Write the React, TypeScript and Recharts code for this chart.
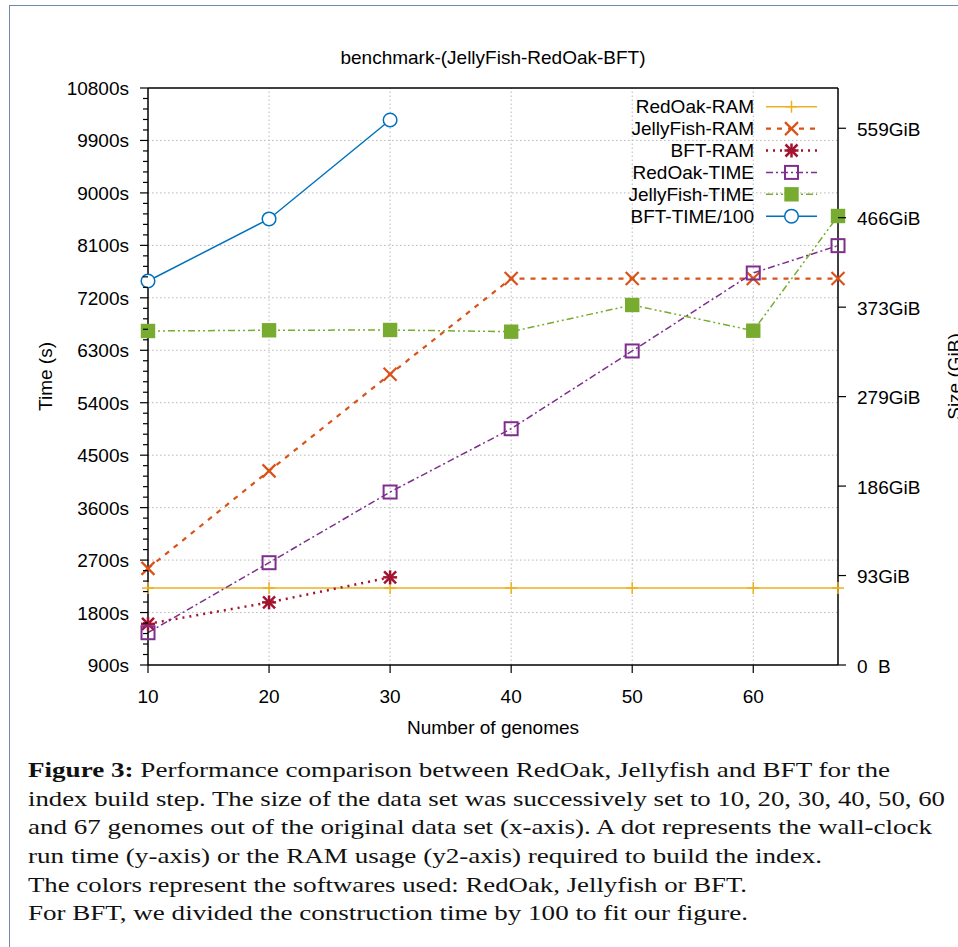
import React from 'react';
import { LineChart, Line, XAxis, YAxis, ReferenceLine, Legend } from 'recharts';

// ---------- data ----------
const genomes = [10, 20, 30, 40, 50, 60, 67];
// RAM in GB (1e9 bytes), shown on the y2 axis with GiB labels
const redOakRam = [86, 86, 86, 86, 86, 86, 86];
const jellyFishRam = [108, 217, 325, 432, 432, 432, 432];
const bftRam: (number | null)[] = [46, 70, 98, null, null, null, null];
// wall-clock time in seconds (y axis)
const redOakTime = [1454, 2655, 3868, 4954, 6288, 7626, 8095];
const jellyFishTime = [6631, 6643, 6648, 6619, 7077, 6636, 8604];
const bftTime100: (number | null)[] = [7489, 8553, 10251, null, null, null, null];

const xTicks = [10, 20, 30, 40, 50, 60];
const timeTicks = [900, 1800, 2700, 3600, 4500, 5400, 6300, 7200, 8100, 9000, 9900, 10800];
const timeMinorPerMajor = 5;
const sizeTicks = [0, 100, 200, 300, 400, 500, 600];

const title = 'benchmark-(JellyFish-RedOak-BFT)';
const xLabel = 'Number of genomes';
const yLabel = 'Time (s)';
const y2Label = 'Size (GiB)';

const captionLines = [
  { bold: 'Figure 3:', text: ' Performance comparison between RedOak, Jellyfish and BFT for the', width: 862 },
  { bold: '', text: 'index build step. The size of the data set was successively set to 10, 20, 30, 40, 50, 60', width: 917 },
  { bold: '', text: 'and 67 genomes out of the original data set (x-axis). A dot represents the wall-clock', width: 904 },
  { bold: '', text: 'run time (y-axis) or the RAM usage (y2-axis) required to build the index.', width: 794 },
  { bold: '', text: 'The colors represent the softwares used: RedOak, Jellyfish or BFT.', width: 719 },
  { bold: '', text: 'For BFT, we divided the construction time by 100 to fit our figure.', width: 720 },
];

// ---------- derived ----------
const data = genomes.map((g, i) => ({
  genomes: g,
  redOakRam: redOakRam[i],
  jellyFishRam: jellyFishRam[i],
  bftRam: bftRam[i],
  redOakTime: redOakTime[i],
  jellyFishTime: jellyFishTime[i],
  bftTime100: bftTime100[i],
}));

const allTimeTicks: number[] = [];
timeTicks.forEach((t, i) => {
  allTimeTicks.push(t);
  if (i < timeTicks.length - 1) {
    const step = (timeTicks[i + 1] - t) / timeMinorPerMajor;
    for (let k = 1; k < timeMinorPerMajor; k++) allTimeTicks.push(t + k * step);
  }
});
const majorTimeSet = new Set(timeTicks);

type MarkerType = 'plus' | 'cross' | 'star' | 'square' | 'filledSquare' | 'circle';
interface SeriesCfg {
  key: string;
  name: string;
  axis: 'left' | 'right';
  color: string;
  dash?: string;
  width: number;
  marker: MarkerType;
}

const series: SeriesCfg[] = [
  { key: 'redOakRam', name: 'RedOak-RAM', axis: 'right', color: '#edb120', width: 1.5, marker: 'plus' },
  { key: 'jellyFishRam', name: 'JellyFish-RAM', axis: 'right', color: '#d95319', dash: '5 6', width: 2.2, marker: 'cross' },
  { key: 'bftRam', name: 'BFT-RAM', axis: 'right', color: '#a2142f', dash: '2 5', width: 2.5, marker: 'star' },
  { key: 'redOakTime', name: 'RedOak-TIME', axis: 'left', color: '#7e2f8e', dash: '7 3 2 3', width: 1.5, marker: 'square' },
  { key: 'jellyFishTime', name: 'JellyFish-TIME', axis: 'left', color: '#77ac30', dash: '7 3 2 3 2 3', width: 1.5, marker: 'filledSquare' },
  { key: 'bftTime100', name: 'BFT-TIME/100', axis: 'left', color: '#0072bd', width: 1.5, marker: 'circle' },
];

const FONT = "'Liberation Sans', Arial, sans-serif";
const FS = 19;

function drawMarker(type: MarkerType, cx: number, cy: number, color: string, key?: string) {
  switch (type) {
    case 'plus':
      return (
        <g key={key}>
          <line x1={cx - 6} x2={cx + 6} y1={cy} y2={cy} stroke={color} strokeWidth={1.5} />
          <line x1={cx} x2={cx} y1={cy - 6} y2={cy + 6} stroke={color} strokeWidth={1.5} />
        </g>
      );
    case 'cross':
      return (
        <g key={key}>
          <line x1={cx - 6.5} x2={cx + 6.5} y1={cy - 6.5} y2={cy + 6.5} stroke={color} strokeWidth={2.2} />
          <line x1={cx - 6.5} x2={cx + 6.5} y1={cy + 6.5} y2={cy - 6.5} stroke={color} strokeWidth={2.2} />
        </g>
      );
    case 'star':
      return (
        <g key={key}>
          <line x1={cx - 6} x2={cx + 6} y1={cy - 6} y2={cy + 6} stroke={color} strokeWidth={2.5} />
          <line x1={cx - 6} x2={cx + 6} y1={cy + 6} y2={cy - 6} stroke={color} strokeWidth={2.5} />
          <line x1={cx - 7} x2={cx + 7} y1={cy} y2={cy} stroke={color} strokeWidth={2.5} />
          <line x1={cx} x2={cx} y1={cy - 7} y2={cy + 7} stroke={color} strokeWidth={2.5} />
        </g>
      );
    case 'square':
      return (
        <rect key={key} x={cx - 6.5} y={cy - 6.5} width={13} height={13} fill="none" stroke={color} strokeWidth={2} />
      );
    case 'filledSquare':
      return <rect key={key} x={cx - 7.2} y={cy - 7.2} width={14.4} height={14.4} fill={color} stroke="none" />;
    case 'circle':
      return <circle key={key} cx={cx} cy={cy} r={6.8} fill="#fff" stroke={color} strokeWidth={1.5} />;
  }
  return null;
}

const makeDot = (s: SeriesCfg) => (props: any) => {
  const { cx, cy, index, value } = props;
  const k = `${s.key}-${index}`;
  if (cx == null || cy == null || value == null || Number.isNaN(cy)) return <g key={k} />;
  return drawMarker(s.marker, cx, cy, s.color, k);
};

const LeftTick = (props: any) => {
  const { x, y, payload } = props;
  const major = majorTimeSet.has(payload.value);
  return (
    <g>
      <line x1={x} x2={x - (major ? 8 : 5)} y1={y} y2={y} stroke="#000" strokeWidth={1.2} />
      {major && (
        <text x={x - 19} y={y + 7} textAnchor="end" fontFamily={FONT} fontSize={FS} fill="#000">
          {`${payload.value}s`}
        </text>
      )}
    </g>
  );
};

const formatGiB = (gb: number) => {
  if (gb === 0) return '0\u00a0\u00a0B';
  return `${Math.round((gb * 1e9) / 1073741824)}GiB`;
};

const RightTick = (props: any) => {
  const { x, y, payload } = props;
  return (
    <g>
      <line x1={x} x2={x + 8} y1={y} y2={y} stroke="#000" strokeWidth={1.2} />
      <text x={x + 19} y={y + 7.5} textAnchor="start" fontFamily={FONT} fontSize={FS} fill="#000">
        {formatGiB(payload.value)}
      </text>
    </g>
  );
};

const BottomTick = (props: any) => {
  const { x, y, payload } = props;
  return (
    <g>
      <line x1={x} x2={x} y1={y} y2={y + 8} stroke="#000" strokeWidth={1.2} />
      <text x={x} y={y + 38} textAnchor="middle" fontFamily={FONT} fontSize={FS} fill="#000">
        {payload.value}
      </text>
    </g>
  );
};

const LegendBox = () => {
  const textRight = 154;
  const lineX1 = 166;
  const lineX2 = 217;
  const rowH = 21.9;
  const top = 11.7;
  return (
    <svg width={230} height={140} style={{ display: 'block' }}>
      {series.map((s, i) => {
        const cy = top + i * rowH;
        const mx = (lineX1 + lineX2) / 2;
        return (
          <g key={s.key}>
            <text x={textRight} y={cy + 6.5} textAnchor="end" fontFamily={FONT} fontSize={FS} fill="#000">
              {s.name}
            </text>
            <line
              x1={lineX1}
              x2={lineX2}
              y1={cy}
              y2={cy}
              stroke={s.color}
              strokeWidth={s.width}
              strokeDasharray={s.dash}
            />
            {drawMarker(s.marker, mx, cy, s.color)}
          </g>
        );
      })}
    </svg>
  );
};

const SERIF = '"Liberation Serif", "Times New Roman", Times, serif';

export default function App() {
  return (
    <div style={{ position: 'absolute', left: 0, top: 0, width: 958, height: 947, background: '#fff', overflow: 'hidden' }}>
      {/* page frame */}
      <div
        style={{
          position: 'absolute',
          left: 9,
          top: 5,
          width: 960,
          height: 960,
          borderLeft: '1.5px solid #6f89b1',
          borderTop: '1.5px solid #6f89b1',
        }}
      />
      {/* chart title */}
      <svg width={958} height={80} style={{ position: 'absolute', left: 0, top: 0 }}>
        <text x={493} y={64} textAnchor="middle" fontFamily={FONT} fontSize={FS} fill="#000">
          {title}
        </text>
      </svg>
      <div style={{ position: 'absolute', left: 0, top: 0 }}>
        <LineChart width={958} height={745} data={data} margin={{ top: 88, right: 0, left: 0, bottom: 0 }}>
          {xTicks.slice(1).map((v) => (
            <ReferenceLine key={`vx${v}`} x={v} yAxisId="left" stroke="#b8b8b8" strokeDasharray="1.5 2.5" />
          ))}
          {timeTicks.slice(1, -1).map((v) => (
            <ReferenceLine key={`hy${v}`} y={v} yAxisId="left" stroke="#b8b8b8" strokeDasharray="1.5 2.5" />
          ))}
          <ReferenceLine y={timeTicks[timeTicks.length - 1]} yAxisId="left" stroke="#000" strokeWidth={1.5} />
          <XAxis
            dataKey="genomes"
            type="number"
            domain={[genomes[0], genomes[genomes.length - 1]]}
            ticks={xTicks}
            interval={0}
            height={80}
            tickSize={0}
            tickMargin={0}
            tickLine={false}
            axisLine={{ stroke: '#000', strokeWidth: 1.5 }}
            tick={<BottomTick />}
            label={{
              value: xLabel,
              content: (p: any) => {
                const vb = p.viewBox || {};
                return (
                  <text x={vb.x + vb.width / 2} y={vb.y + 69} textAnchor="middle" fontFamily={FONT} fontSize={FS} fill="#000">
                    {xLabel}
                  </text>
                );
              },
            }}
          />
          <YAxis
            yAxisId="left"
            orientation="left"
            type="number"
            width={148}
            domain={[timeTicks[0], timeTicks[timeTicks.length - 1]]}
            ticks={allTimeTicks}
            interval={0}
            tickSize={0}
            tickMargin={0}
            tickLine={false}
            axisLine={{ stroke: '#000', strokeWidth: 1.5 }}
            tick={<LeftTick />}
            label={{
              value: yLabel,
              content: (p: any) => {
                const vb = p.viewBox || {};
                const cx = vb.x + 45;
                const cy = vb.y + vb.height / 2;
                return (
                  <text
                    x={cx}
                    y={cy}
                    transform={`rotate(-90, ${cx}, ${cy})`}
                    textAnchor="middle"
                    dominantBaseline="central"
                    fontFamily={FONT}
                    fontSize={FS}
                    fill="#000"
                  >
                    {yLabel}
                  </text>
                );
              },
            }}
          />
          <YAxis
            yAxisId="right"
            orientation="right"
            type="number"
            width={120}
            domain={[0, 645]}
            ticks={sizeTicks}
            interval={0}
            tickSize={0}
            tickMargin={0}
            tickLine={false}
            axisLine={{ stroke: '#000', strokeWidth: 1.5 }}
            tick={<RightTick />}
            label={{
              value: y2Label,
              content: (p: any) => {
                const vb = p.viewBox || {};
                const cx = vb.x + 116;
                const cy = vb.y + vb.height / 2;
                return (
                  <text
                    x={cx}
                    y={cy}
                    transform={`rotate(-90, ${cx}, ${cy})`}
                    textAnchor="middle"
                    dominantBaseline="central"
                    fontFamily={FONT}
                    fontSize={FS}
                    fill="#000"
                  >
                    {y2Label}
                  </text>
                );
              },
            }}
          />
          <Legend
            layout="horizontal"
            verticalAlign="middle"
            align="center"
            content={() => <LegendBox />}
            wrapperStyle={{ position: 'absolute', left: 600, top: 95, width: 230, height: 140 }}
          />
          {series.map((s) => (
            <Line
              key={s.key}
              yAxisId={s.axis}
              dataKey={s.key}
              name={s.name}
              type="linear"
              stroke={s.color}
              strokeWidth={s.width}
              strokeDasharray={s.dash}
              dot={makeDot(s)}
              activeDot={false}
              connectNulls={false}
              isAnimationActive={false}
            />
          ))}
        </LineChart>
      </div>
      {/* figure caption */}
      <svg width={958} height={202} style={{ position: 'absolute', left: 0, top: 745 }}>
        {captionLines.map((ln, i) => (
          <text
            key={i}
            x={28}
            y={32 + i * 28.65}
            textLength={ln.width}
            lengthAdjust="spacingAndGlyphs"
            style={{ fontFamily: SERIF, fontSize: 21 }}
            fill="#111"
          >
            {ln.bold && <tspan fontWeight="bold">{ln.bold}</tspan>}
            <tspan>{ln.text}</tspan>
          </text>
        ))}
      </svg>
    </div>
  );
}
